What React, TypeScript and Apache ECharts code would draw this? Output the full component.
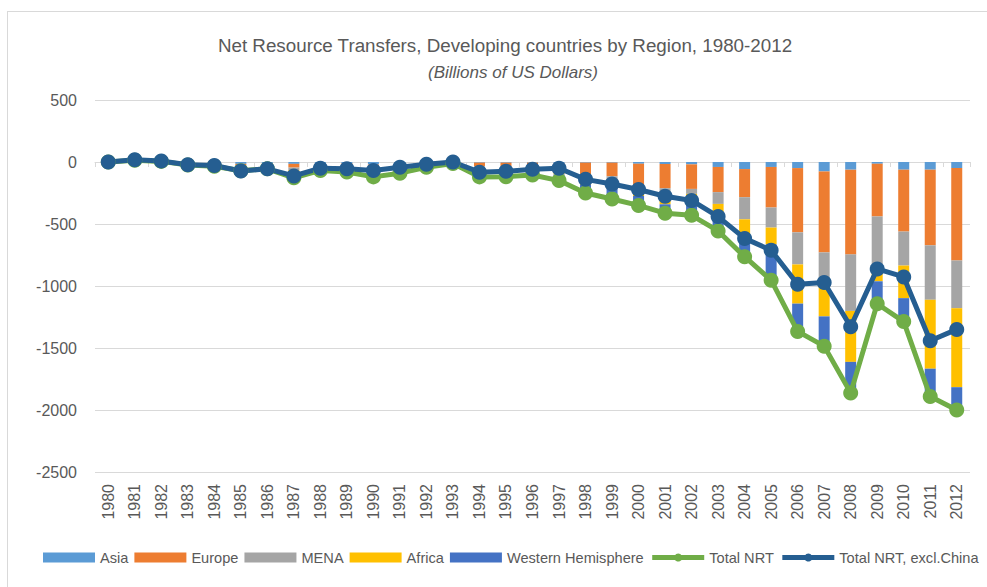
import React, { useEffect, useRef } from "react";
import * as echarts from "echarts";

const years = [
  "1980","1981","1982","1983","1984","1985","1986","1987","1988","1989","1990",
  "1991","1992","1993","1994","1995","1996","1997","1998","1999","2000","2001",
  "2002","2003","2004","2005","2006","2007","2008","2009","2010","2011","2012",
];
const asia = [5,5,5,-10,-15,-15,-10,-15,-10,-10,-20,-10,-5,-3,-5,-5,-5,-10,-5,-5,-14,-16,-19,-40,-57,-40,-49,-76,-62,-14,-62,-62,-49];
const europe = [-5,-5,-5,-5,-5,-10,-10,-30,-15,-12,-25,-15,-8,-5,-30,-30,-25,-40,-100,-110,-175,-195,-198,-203,-227,-327,-518,-653,-683,-425,-499,-610,-745];
const mena = [20,25,15,5,0,-10,-15,-20,-15,-20,-35,-30,-15,-5,-25,-25,-25,-30,-40,-50,-40,-40,-40,-95,-178,-162,-259,-224,-456,-415,-274,-439,-385];
const africa = [-5,-5,-5,-5,-5,-5,-5,-10,-8,-8,-10,-10,-6,-4,-15,-15,-15,-20,-40,-50,-45,-90,-80,-90,-154,-135,-316,-292,-411,-108,-263,-556,-637];
const westernHemisphere = [-15,-5,-5,-10,-10,-30,-15,-53,-20,-30,-30,-25,-8,5,-45,-43,-35,-50,-65,-83,-76,-72,-93,-128,-148,-289,-224,-240,-250,-181,-189,-224,-184];
const totalNRT = [0,15,5,-25,-35,-70,-55,-128,-68,-80,-120,-90,-42,-12,-120,-118,-105,-150,-250,-298,-350,-413,-430,-556,-764,-953,-1366,-1485,-1862,-1143,-1287,-1891,-2000];
const totalExclChina = [0,18,8,-22,-28,-72,-55,-112,-50,-55,-68,-42,-18,0,-82,-75,-58,-50,-140,-178,-222,-276,-310,-440,-616,-712,-986,-972,-1328,-862,-927,-1442,-1350];

const FONT = "Liberation Sans, Arial, sans-serif";
const GREY_TEXT = "#595959";
const GRID_GREY = "#d9d9d9";

export default function App() {
  const ref = useRef<HTMLDivElement>(null);

  useEffect(() => {
    if (!ref.current) return;
    const chart = echarts.init(ref.current, undefined, { renderer: "svg" });

    const barSeries = [
      { name: "Asia", data: asia, color: "#5B9BD5" },
      { name: "Europe", data: europe, color: "#ED7D31" },
      { name: "MENA", data: mena, color: "#A5A5A5" },
      { name: "Africa", data: africa, color: "#FFC000" },
      { name: "Western Hemisphere", data: westernHemisphere, color: "#4472C4" },
    ].map((s) => ({
      name: s.name,
      type: "bar",
      stack: "regions",
      xAxisIndex: 0,
      barWidth: 11,
      data: s.data,
      itemStyle: { color: s.color },
    }));

    const lineSeries = [
      { name: "Total NRT", data: totalNRT, color: "#70AD47" },
      { name: "Total NRT, excl.China", data: totalExclChina, color: "#255E91" },
    ].map((s) => ({
      name: s.name,
      type: "line",
      xAxisIndex: 0,
      data: s.data,
      symbol: "circle",
      symbolSize: 15,
      lineStyle: { color: s.color, width: 5 },
      itemStyle: { color: s.color },
    }));

    chart.setOption({
      animation: false,
      backgroundColor: "#ffffff",
      graphic: [
        {
          type: "text",
          x: 505,
          y: 45,
          style: {
            text: "Net Resource Transfers, Developing countries by Region, 1980-2012",
            fontFamily: FONT,
            fontSize: 18.8,
            fill: GREY_TEXT,
            textAlign: "center",
            textVerticalAlign: "middle",
          },
        },
        {
          type: "text",
          x: 513,
          y: 72,
          style: {
            text: "(Billions of US Dollars)",
            fontFamily: FONT,
            fontSize: 17,
            fontStyle: "italic",
            fill: GREY_TEXT,
            textAlign: "center",
            textVerticalAlign: "middle",
          },
        },
      ],
      legend: {
        bottom: 17,
        left: 38,
        itemWidth: 52,
        itemHeight: 10,
        itemGap: 6,
        textStyle: { fontFamily: FONT, fontSize: 14.6, color: GREY_TEXT },
        data: [
          { name: "Asia", icon: "rect" },
          { name: "Europe", icon: "rect" },
          { name: "MENA", icon: "rect" },
          { name: "Africa", icon: "rect" },
          { name: "Western Hemisphere", icon: "rect" },
          { name: "Total NRT", lineStyle: { width: 5 } },
          { name: "Total NRT, excl.China", lineStyle: { width: 5 } },
        ],
      },
      grid: { left: 95, right: 17, top: 100, bottom: 115, containLabel: false },
      xAxis: [
        {
          type: "category",
          data: years,
          position: "bottom",
          axisLine: { show: false, onZero: false },
          axisTick: { show: false },
          axisLabel: {
            rotate: 90,
            margin: 12,
            fontFamily: FONT,
            fontSize: 16,
            color: GREY_TEXT,
            interval: 0,
          },
        },
        {
          type: "category",
          data: years,
          position: "bottom",
          axisLine: { show: true, onZero: true, lineStyle: { color: GRID_GREY, width: 1 } },
          axisTick: { show: true, length: 5, lineStyle: { color: GRID_GREY } },
          axisLabel: { show: false },
        },
      ],
      yAxis: {
        type: "value",
        min: -2500,
        max: 500,
        interval: 500,
        axisLine: { show: false },
        axisTick: { show: false },
        axisLabel: {
          margin: 18,
          fontFamily: FONT,
          fontSize: 16,
          color: GREY_TEXT,
          formatter: (v: number) => String(v),
        },
        splitLine: { lineStyle: { color: GRID_GREY, width: 1 } },
      },
      series: [...barSeries, ...lineSeries],
    });

    return () => chart.dispose();
  }, []);

  return (
    <div style={{ position: "fixed", left: 0, top: 0, width: 987, height: 587, background: "#fff" }}>
      <div
        ref={ref}
        style={{ position: "absolute", left: 0, top: 0, width: 987, height: 587 }}
      />
      <div
        style={{
          position: "absolute",
          left: 7,
          top: 11,
          width: 990,
          height: 600,
          borderLeft: "1px solid #d9d9d9",
          borderTop: "1px solid #d9d9d9",
          pointerEvents: "none",
        }}
      />
    </div>
  );
}
